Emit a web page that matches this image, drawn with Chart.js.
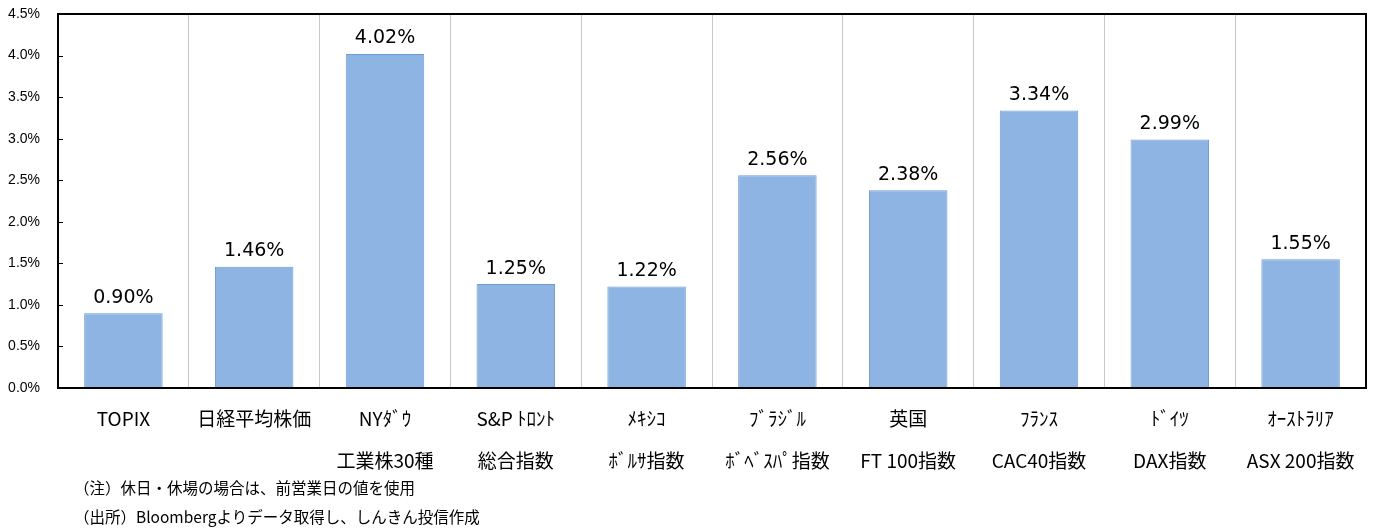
<!DOCTYPE html>
<html>
<head>
<meta charset="utf-8">
<script src="https://cdn.jsdelivr.net/npm/chart.js@4"></script>
<style>
  body { margin: 0; background: #fff; }
  #wrap { position: relative; width: 1378px; height: 530px; }
  #chartCanvas { position: absolute; left: 0; top: 0; }
  .note { position: absolute; left: 74px; font: 15.5px "Noto Sans CJK JP", sans-serif; color: #000; white-space: nowrap; }
</style>
</head>
<body>
<div id="wrap">
  <canvas id="chartCanvas" width="1378" height="530"></canvas>
  <div class="note" style="top:476px">（注）休日・休場の場合は、前営業日の値を使用</div>
  <div class="note" style="top:505px">（出所）Bloombergよりデータ取得し、しんきん投信作成</div>
</div>
<script>
const categories = [
  ['TOPIX', ''],
  ['日経平均株価', ''],
  ['NYﾀﾞｳ', '工業株30種'],
  ['S&P ﾄﾛﾝﾄ', '総合指数'],
  ['ﾒｷｼｺ', 'ﾎﾞﾙｻ指数'],
  ['ﾌﾞﾗｼﾞﾙ', 'ﾎﾞﾍﾞｽﾊﾟ指数'],
  ['英国', 'FT 100指数'],
  ['ﾌﾗﾝｽ', 'CAC40指数'],
  ['ﾄﾞｲﾂ', 'DAX指数'],
  ['ｵｰｽﾄﾗﾘｱ', 'ASX 200指数']
];
const values = [0.90, 1.46, 4.02, 1.25, 1.22, 2.56, 2.38, 3.34, 2.99, 1.55];
const yMin = 0, yMax = 4.5, yStep = 0.5;

// value labels above bars, frame and inner tick marks
const decorations = {
  id: 'decorations',
  afterDatasetsDraw(chart) {
    const ctx = chart.ctx;
    const area = chart.chartArea;
    const meta = chart.getDatasetMeta(0);
    ctx.save();
    ctx.fillStyle = '#000';
    ctx.font = '19px "DejaVu Sans", sans-serif';
    ctx.textAlign = 'center';
    ctx.textBaseline = 'bottom';
    meta.data.forEach((bar, i) => {
      ctx.fillText(values[i].toFixed(2) + '%', bar.x, bar.y - 6);
    });

    ctx.strokeStyle = '#000';
    ctx.lineWidth = 2;
    ctx.strokeRect(area.left, area.top, area.right - area.left, area.bottom - area.top);

    const y = chart.scales.y;
    ctx.lineWidth = 1;
    y.ticks.forEach(t => {
      const py = Math.round(y.getPixelForValue(t.value)) + 0.5;
      ctx.beginPath();
      ctx.moveTo(area.left, py);
      ctx.lineTo(area.left + 5, py);
      ctx.stroke();
    });
    ctx.restore();
  }
};

new Chart(document.getElementById('chartCanvas').getContext('2d'), {
  type: 'bar',
  data: {
    labels: categories,
    datasets: [{
      data: values,
      backgroundColor: '#8eb4e3',
      borderColor: '#6f9bd2',
      borderWidth: 1,
      categoryPercentage: 0.6,
      barPercentage: 1.0
    }]
  },
  options: {
    responsive: false,
    animation: false,
    layout: { padding: { top: 14, right: 12, left: 0, bottom: 0 } },
    plugins: {
      legend: { display: false },
      tooltip: { enabled: false }
    },
    scales: {
      x: {
        afterFit: scale => { scale.height = 142; },
        grid: { color: '#c8c8c8', lineWidth: 1, drawTicks: false },
        border: { display: false },
        ticks: {
          color: '#000',
          padding: 10,
          maxRotation: 0,
          autoSkip: false,
          font: { family: '"Noto Sans CJK JP", sans-serif', size: 19, lineHeight: 2.2 }
        }
      },
      y: {
        min: yMin,
        max: yMax,
        afterFit: scale => { scale.width = 58; scale.paddingTop = 0; scale.paddingBottom = 0; },
        grid: { display: false },
        border: { display: false },
        ticks: {
          stepSize: yStep,
          color: '#000',
          padding: 10,
          font: { family: '"Liberation Sans", Arial, sans-serif', size: 14 },
          callback: v => v.toFixed(1) + '%'
        }
      }
    }
  },
  plugins: [decorations]
});
</script>
</body>
</html>
